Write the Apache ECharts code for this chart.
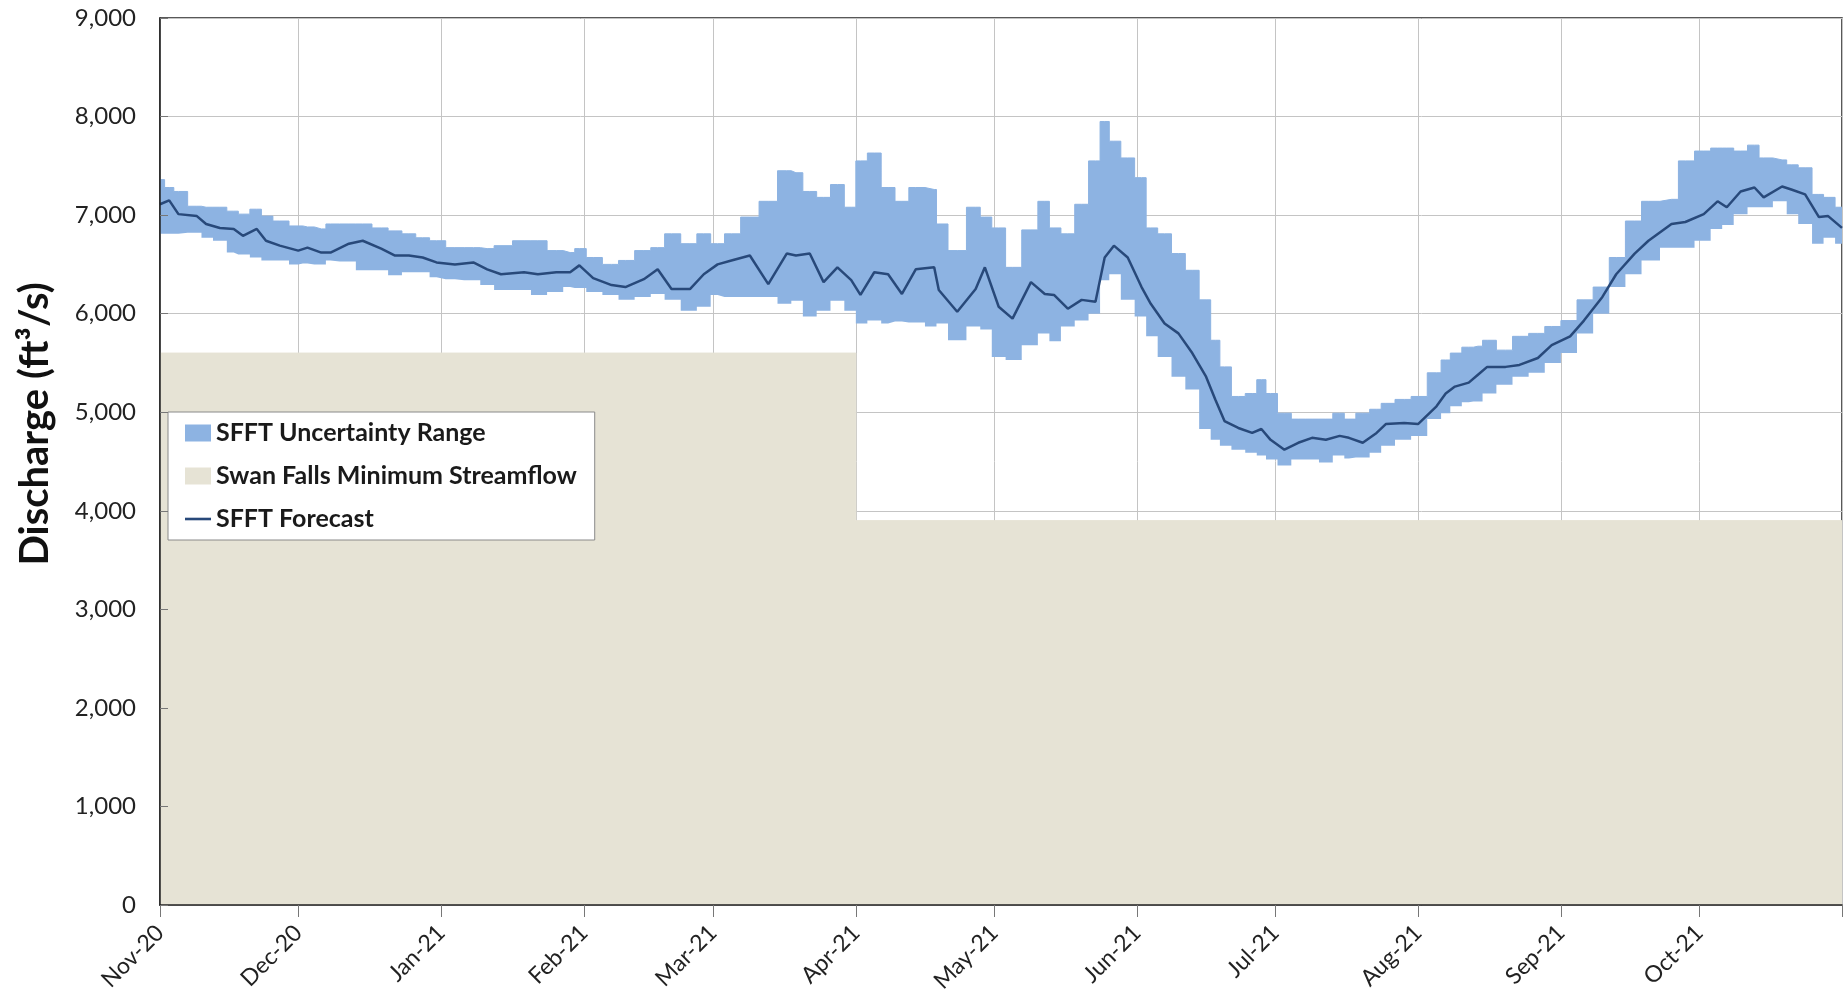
<!DOCTYPE html>
<html>
<head>
<meta charset="utf-8">
<title>SFFT Discharge Forecast</title>
<script src="https://cdn.jsdelivr.net/npm/echarts@6/dist/echarts.min.js"></script>
<style>
  html, body { margin: 0; padding: 0; background: #fff; }
  #chart { width: 1848px; height: 1000px; }
</style>
</head>
<body>
<div id="chart"></div>
<script>
// sample days counted from 1 Nov 2020
const sampleDays = [
  0, 2, 4, 8, 10, 13, 16, 18, 21, 23,
  26, 30, 32, 35, 37, 41, 44, 48, 51, 54,
  57, 60, 64, 68, 71, 74, 79, 82, 86, 89,
  91, 94, 98, 101, 105, 108, 111, 115, 118, 121,
  124, 128, 132, 136, 138, 141, 144, 147, 150, 152,
  155, 158, 161, 164, 168, 169, 173, 177, 179, 182,
  185, 189, 192, 194, 197, 200, 203, 205, 207, 210,
  213, 215, 218, 221, 224, 227, 229, 231, 234, 237,
  239, 241, 244, 247, 250, 253, 256, 258, 261, 264,
  266, 270, 273, 277, 279, 281, 284, 286, 288, 292,
  295, 299, 302, 306, 309, 313, 316, 320, 323, 328,
  331, 335, 338, 340, 343, 346, 348, 352, 354, 357,
  360, 362, 365
]

const upperRange = [
  7360, 7280, 7240, 7090, 7080, 7080, 7040, 7010, 7060, 6990,
  6940, 6890, 6880, 6860, 6910, 6910, 6910, 6870, 6840, 6810,
  6770, 6740, 6670, 6670, 6660, 6690, 6740, 6740, 6640, 6620,
  6660, 6570, 6500, 6540, 6640, 6670, 6810, 6710, 6810, 6710,
  6810, 6980, 7140, 7450, 7430, 7240, 7180, 7310, 7080, 7550,
  7630, 7280, 7140, 7280, 7260, 6910, 6640, 7080, 6980, 6870,
  6470, 6850, 7140, 6870, 6810, 7110, 7550, 7950, 7750, 7580,
  7380, 6870, 6810, 6610, 6440, 6140, 5730, 5460, 5160, 5190,
  5330, 5190, 4990, 4930, 4930, 4930, 4990, 4930, 4990, 5030,
  5090, 5130, 5160, 5400, 5530, 5600, 5660, 5670, 5730, 5630,
  5770, 5800, 5870, 5930, 6140, 6270, 6570, 6940, 7140, 7160,
  7550, 7650, 7680, 7680, 7650, 7710, 7580, 7560, 7510, 7480,
  7210, 7180, 7080
]

const forecast = [
  7110, 7150, 7010, 6990, 6910, 6870, 6860, 6790, 6860, 6740,
  6690, 6640, 6670, 6620, 6620, 6710, 6740, 6660, 6590, 6590,
  6570, 6520, 6500, 6520, 6450, 6400, 6420, 6400, 6420, 6420,
  6490, 6360, 6290, 6270, 6350, 6450, 6250, 6250, 6400, 6500,
  6540, 6590, 6300, 6610, 6590, 6610, 6320, 6470, 6340, 6190,
  6420, 6400, 6200, 6450, 6470, 6240, 6020, 6250, 6470, 6070,
  5950, 6320, 6200, 6190, 6050, 6140, 6120, 6570, 6690, 6570,
  6270, 6100, 5900, 5800, 5600, 5360, 5130, 4910, 4840, 4790,
  4830, 4720, 4620, 4690, 4740, 4720, 4760, 4740, 4690, 4790,
  4880, 4890, 4880, 5060, 5190, 5260, 5300, 5380, 5460, 5460,
  5480, 5550, 5680, 5770, 5930, 6170, 6400, 6610, 6740, 6910,
  6930, 7010, 7140, 7080, 7240, 7280, 7180, 7290, 7260, 7210,
  6980, 6990, 6870
]

const lowerRange = [
  6810, 6810, 6810, 6820, 6770, 6740, 6620, 6600, 6570, 6540,
  6540, 6500, 6510, 6500, 6540, 6530, 6440, 6440, 6390, 6420,
  6420, 6370, 6350, 6340, 6290, 6240, 6240, 6190, 6220, 6270,
  6260, 6220, 6190, 6140, 6170, 6200, 6140, 6030, 6070, 6190,
  6170, 6170, 6170, 6100, 6130, 5970, 6030, 6130, 6030, 5900,
  5930, 5900, 5920, 5910, 5870, 5900, 5730, 5870, 5840, 5560,
  5530, 5680, 5800, 5720, 5870, 5930, 6000, 6340, 6400, 6140,
  5970, 5770, 5560, 5360, 5230, 4830, 4720, 4660, 4620, 4590,
  4560, 4520, 4460, 4520, 4520, 4490, 4560, 4530, 4540, 4590,
  4660, 4720, 4760, 4930, 4990, 5060, 5100, 5110, 5190, 5280,
  5360, 5400, 5500, 5600, 5800, 6000, 6270, 6400, 6540, 6670,
  6670, 6740, 6860, 6900, 7010, 7080, 7080, 7140, 7010, 6910,
  6710, 6770, 6710
]

// Swan Falls minimum streamflow steps
const minFlowDates = ['2020-11-01', '2021-04-01', '2021-04-01', '2021-11-01']
const minFlowValues = [5600, 5600, 3900, 3900]

const monthTicks = ['Nov-20', 'Dec-20', 'Jan-21', 'Feb-21', 'Mar-21', 'Apr-21',
  'May-21', 'Jun-21', 'Jul-21', 'Aug-21', 'Sep-21', 'Oct-21']

const FONT = 'Lato'
const BAND = '#8DB3E2'
const LINE = '#28497A'
const BEIGE = '#E6E3D5'

const toTime = d => new Date(2020, 10, 1 + d).getTime()
const xs = sampleDays.map(toTime)
const xMin = toTime(0)
const xMax = toTime(365)

const chart = echarts.init(document.getElementById('chart'))

const option = {
  animation: false,
  grid: {
    left: 160,
    right: 6,
    top: 18,
    bottom: 95,
    show: true,
    borderColor: '#222',
    borderWidth: 1.5,
    backgroundColor: 'transparent'
  },
  legend: {
    orient: 'vertical',
    left: 168,
    top: 412,
    padding: [8, 18, 8, 17],
    itemGap: 17,
    itemWidth: 26,
    itemHeight: 17,
    backgroundColor: '#fff',
    borderColor: '#8a8a8a',
    borderWidth: 1,
    selectedMode: false,
    itemStyle: { borderWidth: 0 },
    textStyle: {
      fontFamily: FONT,
      fontWeight: 'bold',
      fontSize: 25,
      lineHeight: 26,
      color: '#1a1a1a'
    },
    data: [
      { name: 'SFFT Uncertainty Range', icon: 'rect' },
      { name: 'Swan Falls Minimum Streamflow', icon: 'rect' },
      { name: 'SFFT Forecast', icon: 'path://M0,0H26V2.6H0Z' }
    ]
  },
  xAxis: [
    {
      type: 'time',
      min: xMin,
      max: xMax,
      splitNumber: 12,
      axisLine: { show: false },
      axisTick: { show: false },
      axisLabel: {
        rotate: 45,
        margin: 24,
        fontFamily: FONT,
        fontSize: 23,
        color: '#222',
        showMaxLabel: false,
        formatter: val => {
          const d = new Date(val)
          const idx = (d.getFullYear() - 2020) * 12 + d.getMonth() - 10
          return monthTicks[idx] || ''
        }
      },
      splitLine: { show: true, lineStyle: { color: '#c4c4c4', width: 1 } }
    },
    {
      // overlay axis so the ticks sit on top of the filled areas
      type: 'time',
      min: xMin,
      max: xMax,
      splitNumber: 12,
      z: 10,
      axisLine: { show: true, lineStyle: { color: '#222', width: 1.5 } },
      axisTick: { show: true, inside: true, length: 12, lineStyle: { color: '#777' } },
      axisLabel: { show: false },
      splitLine: { show: false }
    }
  ],
  yAxis: [
    {
      type: 'value',
      min: 0,
      max: 9000,
      interval: 1000,
      axisLine: { show: false },
      axisTick: { show: false },
      axisLabel: {
        margin: 24,
        fontFamily: FONT,
        fontSize: 24,
        color: '#222',
        formatter: v => v.toLocaleString('en-US')
      },
      splitLine: { show: true, lineStyle: { color: '#c4c4c4', width: 1 } }
    },
    {
      type: 'value',
      position: 'left',
      min: 0,
      max: 9000,
      interval: 1000,
      z: 10,
      axisLine: { show: true, lineStyle: { color: '#222', width: 1.5 } },
      axisTick: { show: true, inside: true, length: 8, lineStyle: { color: '#777' } },
      axisLabel: { show: false },
      splitLine: { show: false }
    }
  ],
  graphic: [
    {
      type: 'text',
      x: 35,
      y: 424,
      rotation: Math.PI / 2,
      style: {
        text: 'Discharge (ft³/s)',
        fontFamily: FONT,
        fontWeight: 'bold',
        fontSize: 40,
        fill: '#111',
        align: 'center',
        verticalAlign: 'middle'
      }
    }
  ],
  series: [
    {
      name: 'Swan Falls Minimum Streamflow',
      type: 'line',
      data: minFlowDates.map((d, i) => [d, minFlowValues[i]]),
      symbol: 'none',
      silent: true,
      itemStyle: { color: BEIGE },
      lineStyle: { color: BEIGE, width: 1 },
      areaStyle: { color: BEIGE, opacity: 1 },
      z: 1
    },
    {
      name: 'bandBase',
      type: 'line',
      stack: 'band',
      step: 'middle',
      data: lowerRange.map((v, i) => [xs[i], v]),
      symbol: 'none',
      silent: true,
      lineStyle: { opacity: 0 },
      z: 2
    },
    {
      name: 'SFFT Uncertainty Range',
      type: 'line',
      stack: 'band',
      step: 'middle',
      data: upperRange.map((v, i) => [xs[i], v - lowerRange[i]]),
      symbol: 'none',
      silent: true,
      itemStyle: { color: BAND },
      lineStyle: { color: BAND, width: 1 },
      areaStyle: { color: BAND, opacity: 1 },
      z: 2
    },
    {
      name: 'SFFT Forecast',
      type: 'line',
      data: forecast.map((v, i) => [xs[i], v]),
      symbol: 'none',
      silent: true,
      itemStyle: { color: LINE },
      lineStyle: { color: LINE, width: 2.5 },
      z: 3
    }
  ]
}

chart.setOption(option)
</script>
</body>
</html>
